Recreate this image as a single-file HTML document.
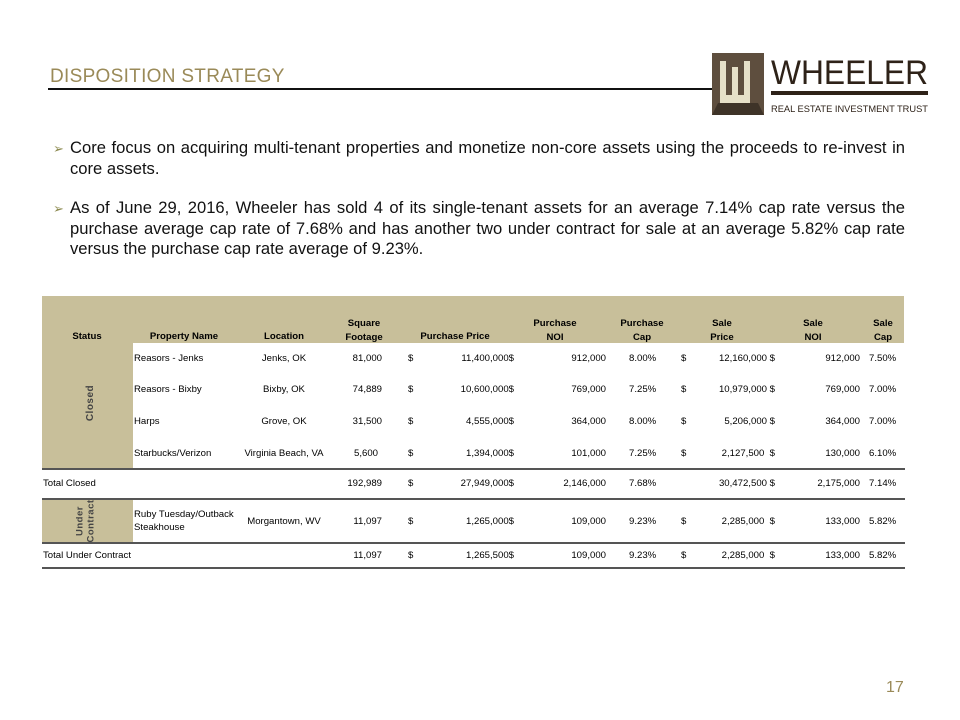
<!DOCTYPE html>
<html><head><meta charset="utf-8"><style>
body{margin:0;background:#fff;}
#p{position:relative;width:960px;height:720px;overflow:hidden;font-family:"Liberation Sans",sans-serif;color:#000;}
.a{position:absolute;font-size:9.6px;line-height:14px;white-space:nowrap;}
.r{text-align:right;}
.c{text-align:center;width:120px;}
.h{font-weight:bold;}
.band{position:absolute;background:#c8bf9a;}
.ln{position:absolute;left:42px;width:863px;height:2px;background:#555;}
.body{position:absolute;left:70px;width:835px;font-size:16.6px;line-height:20.5px;text-align:justify;color:#111;}
.bul{position:absolute;left:53px;font-size:13px;color:#8c8a50;}
</style></head><body><div id="p">
<div style="position:absolute;left:50px;top:66px;font-size:19px;color:#9a8a58;letter-spacing:0.3px;">DISPOSITION STRATEGY</div>
<div style="position:absolute;left:48px;top:88px;width:666px;height:2px;background:#111;"></div>
<svg style="position:absolute;left:712px;top:53px" width="220" height="64">
<rect x="0" y="0" width="52" height="62" fill="#5e4e3e"/>
<path d="M8 8h6v34h6V14h6v28h6V8h6v42H8z" fill="#e6e0c8"/>
<path d="M6 50h40l6 12H0z" fill="#3e3328"/>
<text x="59" y="31" font-family="Liberation Sans" font-size="34" fill="#2e2218" textLength="157" lengthAdjust="spacingAndGlyphs">WHEELER</text>
<rect x="59" y="38" width="157" height="4" fill="#2e2218"/>
<text x="59" y="59" font-family="Liberation Sans" font-size="9.5" fill="#2e2218" textLength="157" lengthAdjust="spacingAndGlyphs">REAL ESTATE INVESTMENT TRUST</text>
</svg>
<div class="bul" style="top:141px">&#10146;</div>
<div class="body" style="top:138px;">Core focus on acquiring multi-tenant properties and monetize non-core assets using the proceeds to re-invest in core assets.</div>
<div class="bul" style="top:201px">&#10146;</div>
<div class="body" style="top:198px;">As of June 29, 2016, Wheeler has sold 4 of its single-tenant assets for an average 7.14% cap rate versus the purchase average cap rate of 7.68% and has another two under contract for sale at an average 5.82% cap rate versus the purchase cap rate average of 9.23%.</div>

<div class="band" style="left:42px;top:296px;width:862px;height:47px"></div>
<div class="band" style="left:42px;top:343px;width:91px;height:125px"></div>
<div class="band" style="left:42px;top:500px;width:91px;height:42px"></div>
<div class="ln" style="top:468px"></div>
<div class="ln" style="top:498px"></div>
<div class="ln" style="top:542px"></div>
<div class="ln" style="top:567px"></div>
<div class="a h" style="left:73px;top:396px;transform:rotate(-90deg);color:#444;font-size:10px;letter-spacing:0.5px">Closed</div>
<div class="a h" style="left:64px;top:510px;transform:rotate(-90deg);color:#444;font-size:9.5px;line-height:11px;text-align:center;letter-spacing:0.5px">Under<br>Contract</div>

<div class="a c h" style="left:27px;top:330px">Status</div>
<div class="a c h" style="left:124px;top:330px">Property Name</div>
<div class="a c h" style="left:224px;top:330px">Location</div>
<div class="a c h" style="left:304px;top:317px">Square<br>Footage</div>
<div class="a c h" style="left:395px;top:330px">Purchase Price</div>
<div class="a c h" style="left:495px;top:317px">Purchase<br>NOI</div>
<div class="a c h" style="left:582px;top:317px">Purchase<br>Cap</div>
<div class="a c h" style="left:662px;top:317px">Sale<br>Price</div>
<div class="a c h" style="left:753px;top:317px">Sale<br>NOI</div>
<div class="a c h" style="left:823px;top:317px">Sale<br>Cap</div>

<div class="a" style="left:134px;top:352px">Reasors - Jenks</div>
<div class="a" style="left:134px;top:383px">Reasors - Bixby</div>
<div class="a" style="left:134px;top:415px">Harps</div>
<div class="a" style="left:134px;top:447px">Starbucks/Verizon</div>
<div class="a" style="left:43px;top:477px">Total Closed</div>
<div class="a" style="left:134px;top:508px;line-height:13px">Ruby Tuesday/Outback<br>Steakhouse</div>
<div class="a" style="left:43px;top:549px">Total Under Contract</div>

<div class="a c" style="left:224px;top:352px">Jenks, OK</div>
<div class="a c" style="left:224px;top:383px">Bixby, OK</div>
<div class="a c" style="left:224px;top:415px">Grove, OK</div>
<div class="a c" style="left:224px;top:447px">Virginia Beach, VA</div>
<div class="a c" style="left:224px;top:515px">Morgantown, WV</div>

<div class="a r" style="right:578px;top:352px">81,000</div>
<div class="a r" style="right:578px;top:383px">74,889</div>
<div class="a r" style="right:578px;top:415px">31,500</div>
<div class="a r" style="right:582px;top:447px">5,600</div>
<div class="a r" style="right:578px;top:477px">192,989</div>
<div class="a r" style="right:578px;top:515px">11,097</div>
<div class="a r" style="right:578px;top:549px">11,097</div>

<div class="a" style="left:408px;top:352px">$</div>
<div class="a" style="left:408px;top:383px">$</div>
<div class="a" style="left:408px;top:415px">$</div>
<div class="a" style="left:408px;top:447px">$</div>
<div class="a" style="left:408px;top:477px">$</div>
<div class="a" style="left:408px;top:515px">$</div>
<div class="a" style="left:408px;top:549px">$</div>

<div class="a r" style="right:446px;top:352px">11,400,000$</div>
<div class="a r" style="right:446px;top:383px">10,600,000$</div>
<div class="a r" style="right:446px;top:415px">4,555,000$</div>
<div class="a r" style="right:446px;top:447px">1,394,000$</div>
<div class="a r" style="right:446px;top:477px">27,949,000$</div>
<div class="a r" style="right:446px;top:515px">1,265,000$</div>
<div class="a r" style="right:446px;top:549px">1,265,500$</div>

<div class="a r" style="right:354px;top:352px">912,000</div>
<div class="a r" style="right:354px;top:383px">769,000</div>
<div class="a r" style="right:354px;top:415px">364,000</div>
<div class="a r" style="right:354px;top:447px">101,000</div>
<div class="a r" style="right:354px;top:477px">2,146,000</div>
<div class="a r" style="right:354px;top:515px">109,000</div>
<div class="a r" style="right:354px;top:549px">109,000</div>

<div class="a" style="left:629px;top:352px">8.00%</div>
<div class="a" style="left:629px;top:383px">7.25%</div>
<div class="a" style="left:629px;top:415px">8.00%</div>
<div class="a" style="left:629px;top:447px">7.25%</div>
<div class="a" style="left:629px;top:477px">7.68%</div>
<div class="a" style="left:629px;top:515px">9.23%</div>
<div class="a" style="left:629px;top:549px">9.23%</div>

<div class="a" style="left:681px;top:352px">$</div>
<div class="a" style="left:681px;top:383px">$</div>
<div class="a" style="left:681px;top:415px">$</div>
<div class="a" style="left:681px;top:447px">$</div>
<div class="a" style="left:681px;top:515px">$</div>
<div class="a" style="left:681px;top:549px">$</div>

<div class="a r" style="right:185px;top:352px">12,160,000 $</div>
<div class="a r" style="right:185px;top:383px">10,979,000 $</div>
<div class="a r" style="right:185px;top:415px">5,206,000 $</div>
<div class="a r" style="right:185px;top:447px">2,127,500 &nbsp;$</div>
<div class="a r" style="right:185px;top:477px">30,472,500 $</div>
<div class="a r" style="right:185px;top:515px">2,285,000 &nbsp;$</div>
<div class="a r" style="right:185px;top:549px">2,285,000 &nbsp;$</div>

<div class="a r" style="right:100px;top:352px">912,000</div>
<div class="a r" style="right:100px;top:383px">769,000</div>
<div class="a r" style="right:100px;top:415px">364,000</div>
<div class="a r" style="right:100px;top:447px">130,000</div>
<div class="a r" style="right:100px;top:477px">2,175,000</div>
<div class="a r" style="right:100px;top:515px">133,000</div>
<div class="a r" style="right:100px;top:549px">133,000</div>

<div class="a" style="left:869px;top:352px">7.50%</div>
<div class="a" style="left:869px;top:383px">7.00%</div>
<div class="a" style="left:869px;top:415px">7.00%</div>
<div class="a" style="left:869px;top:447px">6.10%</div>
<div class="a" style="left:869px;top:477px">7.14%</div>
<div class="a" style="left:869px;top:515px">5.82%</div>
<div class="a" style="left:869px;top:549px">5.82%</div>

<div style="position:absolute;left:886px;top:679px;font-size:16px;color:#9a8a58">17</div>
</div></body></html>
